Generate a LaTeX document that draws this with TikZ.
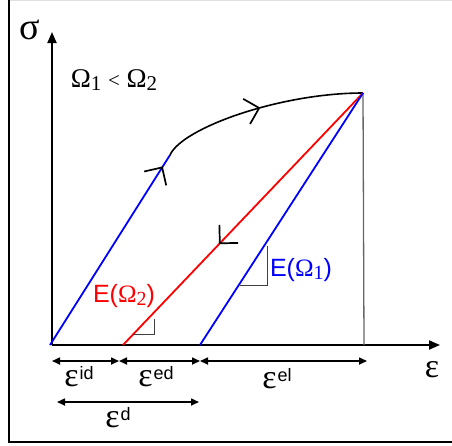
\documentclass[tikz,border=0pt]{standalone}
\usepackage{fontspec}
\setmainfont{Liberation Sans}
\newfontfamily\grk{Liberation Serif}
\usetikzlibrary{arrows.meta,decorations.markings}
\newcommand{\epsl}[1]{{\grk\fontsize{34}{36}\selectfont ε}\hspace{1pt}{\fontsize{18}{20}\selectfont\raisebox{7pt}{#1}}}
\begin{document}
\begin{tikzpicture}[x=1pt,y=-1pt,
  axis/.style={line width=1.8pt,-{Triangle[length=11pt,width=9pt]}},
  dim/.style={line width=1.6pt,{Triangle[length=8pt,width=7pt]}-{Triangle[length=8pt,width=7pt]}},
  barb/.style={decoration={markings,mark=at position #1 with {\arrow[black]{Straight Barb[length=13pt,width=26pt,line width=1.7pt]}}},postaction={decorate}},
  bluel/.style={blue,line width=1.8pt},
  redl/.style={red,line width=1.8pt},
  ang/.style={draw=black!75,line width=1pt},
  lbl/.style={inner sep=0pt,anchor=center}]
\useasboundingbox (0,0) rectangle (452,445);
% frame
\draw[black!12,line width=1pt] (9,0.5) -- (452,0.5);
\draw[line width=1.5pt] (9,0) -- (9,442) -- (452,442);
% coordinates
\coordinate (O) at (52,345);
\coordinate (Ytip) at (52,32);
\coordinate (Xtip) at (440,345);
\coordinate (P) at (363,93);
\coordinate (B) at (170,155);
\coordinate (R0) at (123,345);
\coordinate (B0) at (200,345);
\coordinate (Pb) at (364,345);
% axes
\draw[axis] (O) -- (Ytip);
\draw[axis] (O) -- (Xtip);
\draw[black!60,line width=1.3pt] (P) -- (Pb);
% loading path
\draw[bluel,barb=0.94] (50,345) -- (B);
\draw[line width=1.6pt,barb=0.5] (B) .. controls (182,128) and (280,93) .. (P);
\draw[redl,barb=0.6] (P) -- (R0);
\draw[bluel] (B0) -- (P);
% right-angle markers
\draw[ang] (154,319) -- (154,334) -- (133,334);
\draw[ang] (267,246) -- (267,285) -- (240,285);
% labels
\node[lbl] (sig) at (30,30) {\grk\fontsize{38}{40}\selectfont σ};
\node[lbl] (eps) at (432,370) {\grk\fontsize{34}{36}\selectfont ε};
\node[lbl] (om) at (114,80) {\grk\fontsize{27}{30}\selectfont Ω\raisebox{-3pt}{\fontsize{21}{24}\selectfont 1} {\fontsize{21}{24}\selectfont <} Ω\raisebox{-3pt}{\fontsize{21}{24}\selectfont 2}};
\node[lbl,red] (e2) at (124,296) {\fontsize{25}{28}\selectfont E({\grk Ω\raisebox{-3pt}{\fontsize{20}{22}\selectfont 2}})};
\node[lbl,blue] (e1) at (301,270) {\fontsize{25}{28}\selectfont E({\grk Ω\raisebox{-3pt}{\fontsize{20}{22}\selectfont 1}})};
% dimension arrows
\coordinate (d1) at (52,361);
\coordinate (d2) at (119,361);
\coordinate (d3) at (200,361);
\coordinate (d4) at (367,361);
\coordinate (e1a) at (57,402);
\coordinate (e1b) at (199,402);
\draw[dim] (d1) -- (d2);
\draw[dim] (d2) -- (d3);
\draw[dim] (d3) -- (d4);
\draw[dim] (e1a) -- (e1b);
\node[lbl] (lid) at (79,377) {\epsl{id}};
\node[lbl] (led) at (156,377) {\epsl{ed}};
\node[lbl] (lel) at (277,379) {\epsl{el}};
\node[lbl] (ld) at (118,418) {\epsl{d}};
\end{tikzpicture}
\end{document}
